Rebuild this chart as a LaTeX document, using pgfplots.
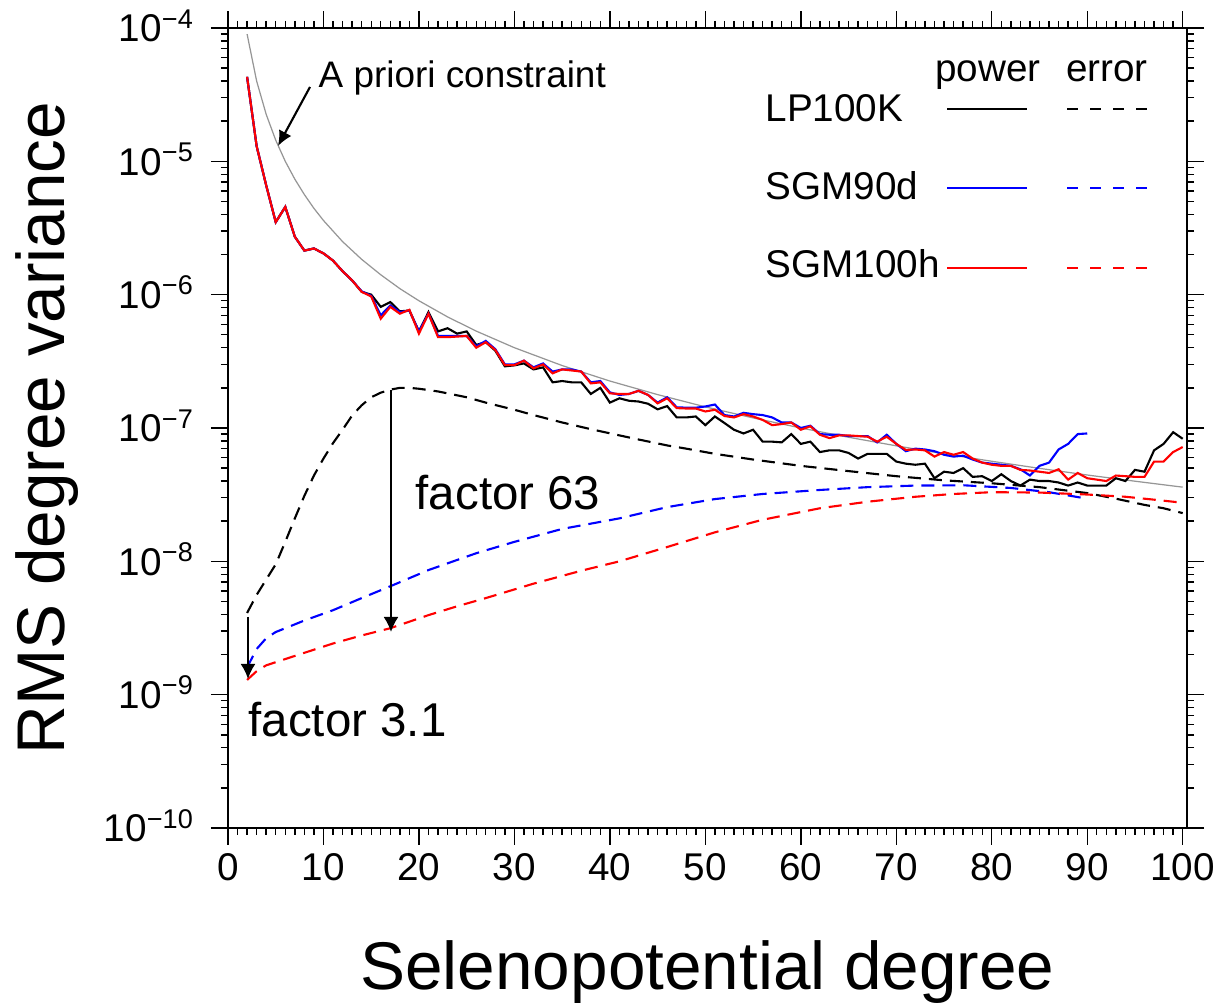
\documentclass[border=0pt]{standalone}
\usepackage{fontspec}
\setmainfont{Liberation Sans}
\usepackage{pgfplots}
\pgfplotsset{compat=1.18}
\usetikzlibrary{arrows.meta}
\definecolor{kgray}{RGB}{150,150,150}
\begin{document}
\begin{tikzpicture}
\begin{axis}[
  scale only axis, width=95.9mm, height=80mm,
  xmin=0, xmax=100.45, ymin=1e-10, ymax=1e-4,
  ymode=log,
  axis line style={line width=0.8pt},
  tick align=outside,
  major tick length=1.7mm, minor tick length=0.7mm,
  every tick/.style={black, line width=0.4pt},
  xtick={0,10,...,100}, minor x tick num=9,
  ytick={1e-10,1e-9,1e-8,1e-7,1e-6,1e-5,1e-4},
  minor ytick={2e-10,3e-10,4e-10,5e-10,6e-10,7e-10,8e-10,9e-10,
               2e-9,3e-9,4e-9,5e-9,6e-9,7e-9,8e-9,9e-9,
               2e-8,3e-8,4e-8,5e-8,6e-8,7e-8,8e-8,9e-8,
               2e-7,3e-7,4e-7,5e-7,6e-7,7e-7,8e-7,9e-7,
               2e-6,3e-6,4e-6,5e-6,6e-6,7e-6,8e-6,9e-6,
               2e-5,3e-5,4e-5,5e-5,6e-5,7e-5,8e-5,9e-5},
  yticklabels={10\textsuperscript{−10},10\textsuperscript{−9},10\textsuperscript{−8},10\textsuperscript{−7},10\textsuperscript{−6},10\textsuperscript{−5},10\textsuperscript{−4}},
  tick label style={font=\fontsize{11}{13}\selectfont},
  /pgf/number format/assume math mode=true,
  xticklabel style={anchor=base, yshift=-3.6mm},
  yticklabel style={anchor=base east, yshift=-1.4mm, xshift=-0.4mm},
]
\coordinate (SW) at (rel axis cs:0,0);
\coordinate (NE) at (rel axis cs:1,1);
% a priori constraint
\addplot[kgray, line width=0.35pt] coordinates {
(2,9.0e-5)(3,4.0e-5)(4,2.25e-5)(5,1.44e-5)(6,1.0e-5)(7,7.35e-6)(8,5.63e-6)(9,4.44e-6)(10,3.6e-6)(12,2.5e-6)(14,1.84e-6)(16,1.41e-6)(18,1.11e-6)(20,9.0e-7)(23,6.81e-7)(26,5.33e-7)(30,4.0e-7)(35,2.94e-7)(40,2.25e-7)(45,1.78e-7)(50,1.44e-7)(55,1.19e-7)(60,1.0e-7)(65,8.52e-8)(70,7.35e-8)(75,6.4e-8)(80,5.63e-8)(85,4.98e-8)(90,4.44e-8)(95,3.99e-8)(100,3.6e-8)};
% errors
\addplot[black, line width=0.6pt, dash pattern=on 1.3mm off 0.8mm] coordinates {
(2,4.1e-9)(3,5.6e-9)(4,7.3e-9)(5,9.5e-9)(6,1.4e-8)(7,2.1e-8)(8,3.1e-8)(9,4.4e-8)(10,5.9e-8)(11,7.7e-8)(12,9.7e-8)(13,1.24e-7)(14,1.48e-7)(15,1.7e-7)(16,1.84e-7)(17,1.94e-7)(18,2.0e-7)(19,2.0e-7)(20,1.97e-7)(22,1.88e-7)(25,1.7e-7)(27,1.55e-7)(30,1.37e-7)(32,1.25e-7)(35,1.1e-7)(38,9.8e-8)(41,8.8e-8)(43,8.2e-8)(46,7.4e-8)(48,7.0e-8)(51,6.4e-8)(55,5.8e-8)(60,5.2e-8)(65,4.75e-8)(70,4.35e-8)(75,4.05e-8)(80,3.85e-8)(85,3.6e-8)(90,3.25e-8)(93,2.95e-8)(96,2.65e-8)(98,2.5e-8)(100,2.3e-8)};
\addplot[blue, line width=0.6pt, dash pattern=on 1.3mm off 0.8mm] coordinates {
(2,1.6e-9)(3,2.2e-9)(4,2.65e-9)(5,2.95e-9)(6,3.15e-9)(8,3.6e-9)(11,4.3e-9)(14,5.3e-9)(17,6.5e-9)(21,8.6e-9)(26,1.15e-8)(30,1.4e-8)(35,1.75e-8)(41,2.1e-8)(46,2.55e-8)(51,2.93e-8)(56,3.2e-8)(62,3.43e-8)(67,3.6e-8)(72,3.7e-8)(77,3.72e-8)(82,3.55e-8)(86,3.3e-8)(90,2.95e-8)};
\addplot[red, line width=0.6pt, dash pattern=on 1.3mm off 0.8mm] coordinates {
(2,1.29e-9)(3,1.5e-9)(4,1.66e-9)(6,1.85e-9)(8,2.06e-9)(11,2.42e-9)(14,2.78e-9)(17,3.15e-9)(21,3.95e-9)(24,4.6e-9)(27,5.3e-9)(32,6.8e-9)(37,8.5e-9)(41,1.0e-8)(46,1.28e-8)(51,1.65e-8)(56,2.05e-8)(62,2.5e-8)(67,2.8e-8)(72,3.05e-8)(76,3.2e-8)(80,3.3e-8)(85,3.28e-8)(90,3.17e-8)(94,3.05e-8)(97,2.9e-8)(100,2.75e-8)};
% power LP100K
\addplot[black, line width=0.6pt] coordinates {
(2,4.3e-5)(3,1.3e-5)(4,6.6e-6)(5,3.5e-6)(6,4.55e-6)(7,2.72e-6)(8,2.14e-6)(9,2.22e-6)(10,2.04e-6)(11,1.8e-6)(12,1.5e-6)(13,1.28e-6)(14,1.05e-6)(15,1.0e-6)(16,8.1e-7)(17,8.8e-7)(18,7.5e-7)(19,7.6e-7)(20,5.3e-7)(21,7.4e-7)(22,5.3e-7)(23,5.6e-7)(24,5.1e-7)(25,5.3e-7)(26,4.2e-7)(27,4.4e-7)(28,3.8e-7)(29,2.9e-7)(30,2.95e-7)(31,3.05e-7)(32,2.75e-7)(33,2.85e-7)(34,2.2e-7)(35,2.25e-7)(36,2.2e-7)(37,2.2e-7)(38,1.8e-7)(39,2.0e-7)(40,1.55e-7)(41,1.67e-7)(42,1.6e-7)(43,1.58e-7)(44,1.52e-7)(45,1.38e-7)(46,1.46e-7)(47,1.2e-7)(48,1.2e-7)(49,1.22e-7)(50,1.05e-7)(51,1.22e-7)(52,1.09e-7)(53,9.7e-8)(54,9.1e-8)(55,9.7e-8)(56,7.9e-8)(57,7.9e-8)(58,7.8e-8)(59,9.0e-8)(60,7.6e-8)(61,7.9e-8)(62,6.6e-8)(63,6.8e-8)(64,6.8e-8)(65,6.5e-8)(66,5.9e-8)(67,6.4e-8)(68,6.4e-8)(69,6.4e-8)(70,5.6e-8)(71,5.4e-8)(72,5.3e-8)(73,5.4e-8)(74,4.2e-8)(75,4.7e-8)(76,4.6e-8)(77,5.0e-8)(78,4.3e-8)(79,4.35e-8)(80,4.0e-8)(81,4.5e-8)(82,4.0e-8)(83,3.7e-8)(84,4.1e-8)(85,4.0e-8)(86,4.0e-8)(87,3.9e-8)(88,3.7e-8)(89,3.9e-8)(90,3.7e-8)(91,3.7e-8)(92,3.7e-8)(93,4.2e-8)(94,4.0e-8)(95,4.85e-8)(96,4.7e-8)(97,6.8e-8)(98,7.6e-8)(99,9.3e-8)(100,8.3e-8)};
% power SGM90d
\addplot[blue, line width=0.6pt] coordinates {
(2,4.3e-5)(3,1.3e-5)(4,6.6e-6)(5,3.5e-6)(6,4.55e-6)(7,2.72e-6)(8,2.14e-6)(9,2.22e-6)(10,2.04e-6)(11,1.8e-6)(12,1.5e-6)(13,1.28e-6)(14,1.06e-6)(15,9.8e-7)(16,7.0e-7)(17,8.3e-7)(18,7.4e-7)(19,7.6e-7)(20,5.3e-7)(21,7.2e-7)(22,4.9e-7)(23,4.9e-7)(24,4.9e-7)(25,4.9e-7)(26,4.1e-7)(27,4.5e-7)(28,3.9e-7)(29,3.0e-7)(30,3.0e-7)(31,3.2e-7)(32,2.85e-7)(33,3.05e-7)(34,2.65e-7)(35,2.75e-7)(36,2.75e-7)(37,2.65e-7)(38,2.2e-7)(39,2.25e-7)(40,1.85e-7)(41,1.77e-7)(42,1.8e-7)(43,1.9e-7)(44,1.77e-7)(45,1.55e-7)(46,1.7e-7)(47,1.43e-7)(48,1.42e-7)(49,1.42e-7)(50,1.45e-7)(51,1.5e-7)(52,1.25e-7)(53,1.22e-7)(54,1.3e-7)(55,1.27e-7)(56,1.25e-7)(57,1.2e-7)(58,1.1e-7)(59,1.1e-7)(60,1.0e-7)(61,1.04e-7)(62,9.0e-8)(63,8.9e-8)(64,8.9e-8)(65,8.7e-8)(66,8.7e-8)(67,8.7e-8)(68,7.8e-8)(69,8.9e-8)(70,7.6e-8)(71,6.7e-8)(72,7.0e-8)(73,6.9e-8)(74,6.7e-8)(75,6.3e-8)(76,6.1e-8)(77,6.2e-8)(78,5.8e-8)(79,5.5e-8)(80,5.4e-8)(81,5.3e-8)(82,5.2e-8)(83,4.9e-8)(84,4.4e-8)(85,5.2e-8)(86,5.5e-8)(87,6.9e-8)(88,7.6e-8)(89,9.0e-8)(90,9.1e-8)};
% power SGM100h
\addplot[red, line width=0.6pt] coordinates {
(2,4.3e-5)(3,1.3e-5)(4,6.6e-6)(5,3.5e-6)(6,4.55e-6)(7,2.72e-6)(8,2.14e-6)(9,2.22e-6)(10,2.04e-6)(11,1.8e-6)(12,1.5e-6)(13,1.28e-6)(14,1.05e-6)(15,9.7e-7)(16,6.6e-7)(17,8.1e-7)(18,7.2e-7)(19,7.7e-7)(20,5.1e-7)(21,7.2e-7)(22,4.8e-7)(23,4.8e-7)(24,4.85e-7)(25,4.9e-7)(26,4.0e-7)(27,4.4e-7)(28,3.85e-7)(29,2.96e-7)(30,2.96e-7)(31,3.2e-7)(32,2.8e-7)(33,3.0e-7)(34,2.57e-7)(35,2.75e-7)(36,2.7e-7)(37,2.65e-7)(38,2.16e-7)(39,2.2e-7)(40,1.82e-7)(41,1.8e-7)(42,1.8e-7)(43,1.9e-7)(44,1.77e-7)(45,1.53e-7)(46,1.67e-7)(47,1.41e-7)(48,1.4e-7)(49,1.4e-7)(50,1.33e-7)(51,1.37e-7)(52,1.23e-7)(53,1.2e-7)(54,1.27e-7)(55,1.22e-7)(56,1.15e-7)(57,1.05e-7)(58,1.07e-7)(59,1.1e-7)(60,9.7e-8)(61,1.03e-7)(62,8.9e-8)(63,8.4e-8)(64,8.8e-8)(65,8.8e-8)(66,8.7e-8)(67,8.6e-8)(68,7.9e-8)(69,8.6e-8)(70,7.6e-8)(71,6.85e-8)(72,6.9e-8)(73,6.8e-8)(74,6.1e-8)(75,6.6e-8)(76,6.3e-8)(77,6.6e-8)(78,5.9e-8)(79,5.5e-8)(80,5.3e-8)(81,5.2e-8)(82,5.2e-8)(83,4.85e-8)(84,4.8e-8)(85,4.7e-8)(86,4.6e-8)(87,4.9e-8)(88,4.1e-8)(89,4.6e-8)(90,4.2e-8)(91,4.1e-8)(92,4.0e-8)(93,4.4e-8)(94,4.35e-8)(95,4.3e-8)(96,4.3e-8)(97,5.6e-8)(98,5.6e-8)(99,6.6e-8)(100,7.2e-8)};
\end{axis}
\begin{scope}[shift={(SW)}, x=1mm, y=1mm]
  % axis labels
  \node[anchor=base, font=\fontsize{19.2}{22}\selectfont] at (47.95,-16.2) {Selenopotential degree};
  \node[anchor=base, rotate=90, font=\fontsize{19.2}{22}\selectfont] at (-16.3,40) {RMS degree variance};
  % legend
  \begin{scope}[font=\fontsize{11}{13}\selectfont]
    \node[anchor=base] at (76.0,74.6) {power};
    \node[anchor=base] at (87.9,74.6) {error};
    \node[anchor=base west, inner sep=0pt] at (53.7,70.6) {LP100K};
    \node[anchor=base west, inner sep=0pt] at (53.7,62.8) {SGM90d};
    \node[anchor=base west, inner sep=0pt] at (53.7,55.0) {SGM100h};
  \end{scope}
  \draw[black, line width=0.6pt] (71.9,71.9) -- (79.9,71.9);
  \draw[black, line width=0.6pt, dash pattern=on 1.1mm off 1.2mm] (83.9,71.9) -- (91.9,71.9);
  \draw[blue, line width=0.6pt] (71.9,64.0) -- (79.9,64.0);
  \draw[blue, line width=0.6pt, dash pattern=on 1.1mm off 1.2mm] (83.9,64.0) -- (91.9,64.0);
  \draw[red, line width=0.6pt] (71.9,56.0) -- (79.9,56.0);
  \draw[red, line width=0.6pt, dash pattern=on 1.1mm off 1.2mm] (83.9,56.0) -- (91.9,56.0);
  % annotations
  \node[anchor=base west, inner sep=0pt, font=\fontsize{10.5}{12}\selectfont] at (9.0,74.0) {A priori constraint};
  \draw[line width=0.6pt, -{Latex[length=1.5mm,width=1.4mm]}] (8.2,74.1) -- (5.0,68.2);
  \node[anchor=base west, inner sep=0pt, font=\fontsize{13.5}{15}\selectfont] at (18.7,31.8) {factor 63};
  \draw[line width=0.6pt, -{Latex[length=1.5mm,width=1.5mm]}] (16.3,43.8) -- (16.3,19.6);
  \node[anchor=base west, inner sep=0pt, font=\fontsize{13.5}{15}\selectfont] at (2.0,9.1) {factor 3.1};
  \draw[line width=0.6pt, -{Latex[length=1.5mm,width=1.5mm]}] (2.0,21.1) -- (2.0,14.9);
\end{scope}
\pgfresetboundingbox
\path ([shift={(-22.8mm,-17.8mm)}]SW) rectangle ([shift={(3.1mm,2.8mm)}]NE);
\end{tikzpicture}
\end{document}
